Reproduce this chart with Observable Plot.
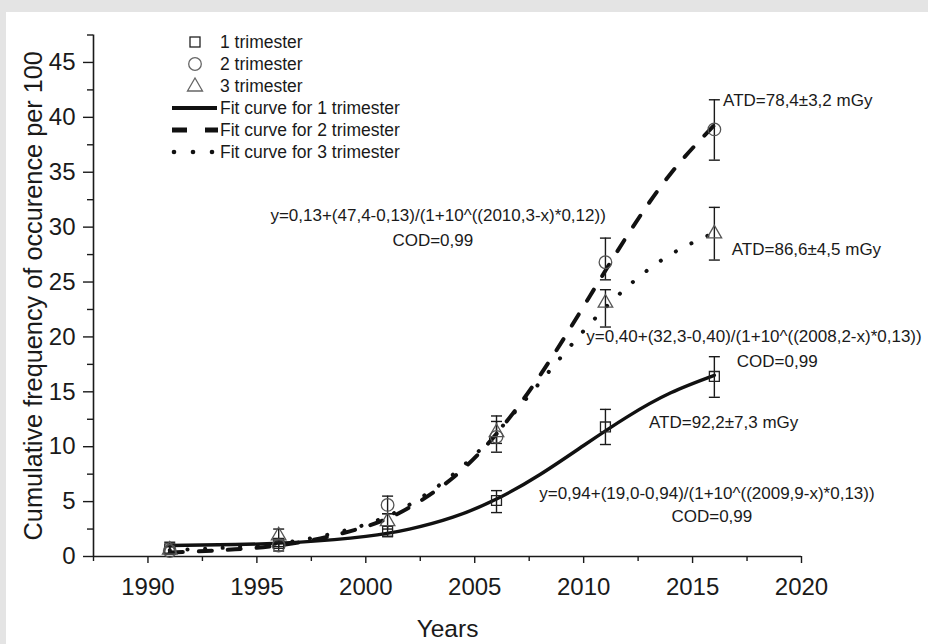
<!DOCTYPE html>
<html>
<head>
<meta charset="utf-8">
<script src="https://cdn.jsdelivr.net/npm/d3@7"></script>
<script src="https://cdn.jsdelivr.net/npm/@observablehq/plot@0.6"></script>
<style>
  html, body { margin: 0; padding: 0; width: 928px; height: 644px; overflow: hidden; background: #e4e4e4; }
  #panel { position: absolute; left: 6px; top: 12px; right: 0; bottom: 0; background: #fff; }
  #chart { position: absolute; left: 0; top: 0; }
  #legend { position: absolute; left: 0; top: 0; pointer-events: none; }
  svg text { font-family: "Liberation Sans", Arial, sans-serif; }
</style>
</head>
<body>
<div id="panel"></div>
<div id="chart"></div>
<svg id="legend" width="928" height="644" xmlns="http://www.w3.org/2000/svg"></svg>
<script>
// ---- data ----
const years = [1991, 1996, 2001, 2006, 2011, 2016];
const t1   = [0.7, 1.2, 2.3, 5.1, 11.8, 16.4];
const t1Lo = [0.2, 0.9, 1.8, 4.0, 10.2, 14.5];
const t1Hi = [1.3, 1.5, 2.8, 6.0, 13.4, 18.2];
const t2   = [0.5, 1.0, 4.7, 10.9, 26.8, 38.9];
const t2Lo = [0.2, 0.5, 3.9, 9.5, 25.2, 36.1];
const t2Hi = [0.9, 1.4, 5.5, 12.8, 29.0, 41.6];
const t3   = [0.6, 1.9, 3.2, 11.3, 23.1, 29.4];
const t3Lo = [0.3, 1.3, 2.5, 10.3, 20.9, 27.0];
const t3Hi = [0.9, 2.5, 3.9, 12.3, 24.3, 31.8];

const fitYears = [1991, 1994, 1997, 2000, 2002, 2004, 2006, 2008, 2010, 2012, 2014, 2016];
const fit1 = [1.00, 1.09, 1.31, 1.83, 2.49, 3.58, 5.23, 7.47, 10.11, 12.72, 14.91, 16.50];
const fit2 = [0.36, 0.65, 1.30, 2.72, 4.46, 7.18, 11.17, 16.50, 22.79, 29.22, 34.89, 39.29];
const fit3 = [0.58, 0.85, 1.48, 2.92, 4.71, 7.46, 11.28, 15.87, 20.55, 24.55, 27.52, 29.48];

const xMajor = [1990, 1995, 2000, 2005, 2010, 2015, 2020];
const xMinor = [1987.5, 1992.5, 1997.5, 2002.5, 2007.5, 2012.5, 2017.5];
const yMajor = [0, 5, 10, 15, 20, 25, 30, 35, 40, 45];
const yMinor = [2.5, 7.5, 12.5, 17.5, 22.5, 27.5, 32.5, 37.5, 42.5, 47.5];
const xDomain = [1987.5, 2020];
const yDomain = [0, 47.5];

const annoText = [
  "ATD=78,4±3,2 mGy",
  "y=0,13+(47,4-0,13)/(1+10^((2010,3-x)*0,12))",
  "COD=0,99",
  "ATD=86,6±4,5 mGy",
  "y=0,40+(32,3-0,40)/(1+10^((2008,2-x)*0,13))",
  "COD=0,99",
  "ATD=92,2±7,3 mGy",
  "y=0,94+(19,0-0,94)/(1+10^((2009,9-x)*0,13))",
  "COD=0,99"
];
const annoX = [2016.40, 1995.62, 2001.22, 2016.80, 2010.12, 2017.03, 2013.00, 2007.96, 2014.03];
const annoY = [41.50, 31.03, 28.82, 28.00, 20.01, 17.80, 12.18, 5.71, 3.68];

const legendLabels = ["1 trimester", "2 trimester", "3 trimester",
  "Fit curve for 1 trimester", "Fit curve for 2 trimester", "Fit curve for 3 trimester"];

// ---- build tables ----
const rows = (v, lo, hi) => years.map((yr, i) => ({year: yr, v: v[i], lo: lo[i], hi: hi[i]}));
const d1 = rows(t1, t1Lo, t1Hi), d2 = rows(t2, t2Lo, t2Hi), d3 = rows(t3, t3Lo, t3Hi);
const allPts = [...d1, ...d2, ...d3];
const fitRows = f => fitYears.map((x, i) => ({x, y: f[i]}));
const annos = annoText.map((t, i) => ({t, x: annoX[i], y: annoY[i]}));

const cap = { draw(ctx) { ctx.moveTo(-5.5, 0); ctx.lineTo(5.5, 0); } };
const ink = "#1a1a1a";
const font = "Liberation Sans, Arial, sans-serif";

const chart = Plot.plot({
  width: 928, height: 644,
  marginLeft: 93, marginRight: 127, marginTop: 34.5, marginBottom: 88,
  style: {background: "transparent", color: ink, fontFamily: font, overflow: "visible"},
  x: {domain: xDomain, axis: null},
  y: {domain: yDomain, axis: null},
  marks: [
    Plot.ruleX([xDomain[0]], {stroke: ink, strokeWidth: 1.6}),
    Plot.ruleY([yDomain[0]], {stroke: ink, strokeWidth: 1.6}),
    Plot.axisX(xMinor, {anchor: "bottom", tickSize: 5, text: null, label: null, strokeWidth: 1.4}),
    Plot.axisX(xMajor, {anchor: "bottom", tickSize: 7, tickPadding: 14, fontSize: 24, label: null, strokeWidth: 1.4, tickFormat: d => String(d)}),
    Plot.axisY(yMinor, {anchor: "left", tickSize: 6, text: null, label: null, strokeWidth: 1.4}),
    Plot.axisY(yMajor, {anchor: "left", tickSize: 10, tickPadding: 8, fontSize: 24, label: null, strokeWidth: 1.4, tickFormat: d => String(d)}),
    Plot.text(["Cumulative frequency of occurence per 100"], {frameAnchor: "left", text: d => d, rotate: -90, textAnchor: "middle", dx: -60, fontSize: 25.3, fill: ink}),
    Plot.text(["Years"], {frameAnchor: "bottom", text: d => d, lineAnchor: "top", dy: 63, fontSize: 24.5, fill: ink}),
    Plot.line(fitRows(fit1), {x: "x", y: "y", curve: "natural", stroke: "#111", strokeWidth: 3.4}),
    Plot.line(fitRows(fit2), {x: "x", y: "y", curve: "natural", stroke: "#111", strokeWidth: 4, strokeDasharray: "13,16"}),
    Plot.line(fitRows(fit3), {x: "x", y: "y", curve: "natural", stroke: "#111", strokeWidth: 4, strokeDasharray: "0.1,17.5", strokeLinecap: "round"}),
    Plot.ruleX(allPts, {x: "year", y1: "lo", y2: "hi", stroke: ink, strokeWidth: 1.4}),
    Plot.dot(allPts, {x: "year", y: "lo", symbol: cap, r: 5, fill: "none", stroke: ink, strokeWidth: 1.4}),
    Plot.dot(allPts, {x: "year", y: "hi", symbol: cap, r: 5, fill: "none", stroke: ink, strokeWidth: 1.4}),
    Plot.dot(d1, {x: "year", y: "v", symbol: "square", r: 5.6, fill: "none", stroke: "#222", strokeWidth: 1.3}),
    Plot.dot(d2, {x: "year", y: "v", symbol: "circle", r: 6.3, fill: "none", stroke: "#555", strokeWidth: 1.3}),
    Plot.dot(d3, {x: "year", y: "v", symbol: "triangle", r: 5.4, fill: "none", stroke: "#555", strokeWidth: 1.3}),
    Plot.text(annos, {x: "x", y: "y", text: "t", textAnchor: "start", fontSize: 17, fill: ink})
  ]
});
document.getElementById("chart").appendChild(chart);

// ---- legend (plain DOM) ----
const NS = "http://www.w3.org/2000/svg";
const lg = document.getElementById("legend");
function add(tag, attrs, text) {
  const el = document.createElementNS(NS, tag);
  for (const k in attrs) el.setAttribute(k, attrs[k]);
  if (text != null) el.textContent = text;
  lg.appendChild(el);
  return el;
}
const rowY = [42, 64, 86, 108, 130, 152];
const sx = 195, tx = 220;
add("rect", {x: sx - 5, y: rowY[0] - 5, width: 10, height: 10, fill: "none", stroke: "#222", "stroke-width": 1.3});
add("circle", {cx: sx, cy: rowY[1], r: 6.3, fill: "none", stroke: "#666", "stroke-width": 1.3});
add("path", {d: `M${sx},${rowY[2] - 8}L${sx + 7.5},${rowY[2] + 5}L${sx - 7.5},${rowY[2] + 5}Z`, fill: "none", stroke: "#666", "stroke-width": 1.3});
add("line", {x1: 172, x2: 217, y1: rowY[3], y2: rowY[3], stroke: "#111", "stroke-width": 4.2});
add("line", {x1: 172, x2: 218, y1: rowY[4], y2: rowY[4], stroke: "#111", "stroke-width": 5, "stroke-dasharray": "15,18,13"});
[174, 193, 212].forEach(cx => add("circle", {cx, cy: rowY[5], r: 2.3, fill: "#111"}));
legendLabels.forEach((t, i) => add("text", {x: tx, y: rowY[i], dy: "0.36em", "font-size": 17.5, fill: ink}, t));
</script>
</body>
</html>
